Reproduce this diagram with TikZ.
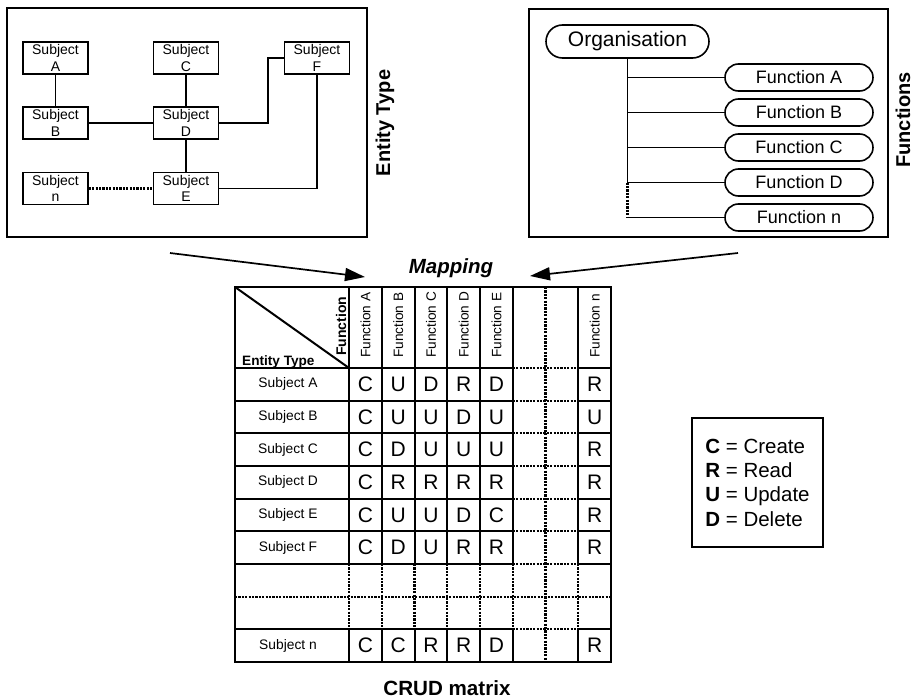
\documentclass[tikz,border=0pt]{standalone}
\usepackage{fontspec}
\setmainfont{Liberation Sans}
\usetikzlibrary{arrows.meta,shapes.misc}
\tikzset{
    subject box/.style={
        draw,line width=1.6pt,
        minimum width=65pt,minimum height=32pt,inner sep=0pt,
        align=center,font=\fontsize{14}{16.5}\selectfont
    },
    function box/.style={
        draw,rounded rectangle,line width=1.6pt,
        minimum width=148pt,minimum height=27pt,inner sep=0pt,
        font=\fontsize{18}{20}\selectfont
    },
    side label/.style={rotate=90,font=\fontsize{20}{24}\selectfont\bfseries},
    head label/.style={rotate=90,anchor=west,inner sep=0pt,font=\fontsize{13.6}{16}\selectfont},
    row label/.style={font=\fontsize{13.8}{16}\selectfont},
    crud/.style={font=\fontsize{21}{24}\selectfont},
    link/.style={line width=1.6pt},
    dotline/.style={dash pattern=on 2.2pt off 1.2pt,line width=2.2pt},
    grid line/.style={line width=2pt},
    >={Triangle[length=20pt,width=13pt]},
}
\begin{document}
\begin{tikzpicture}[x=1pt,y=-1pt]
\useasboundingbox (0,0) rectangle (917,698);
% entity types
\draw[line width=1.7pt] (7,8) rectangle (367,237);
\foreach \name/\x/\y in {A/55.5/58,C/186/58,F/317/58,B/55.5/123,D/186/123,n/55.5/188.5,E/186/188.5}
    \node[subject box] (s\name) at (\x,\y) {Subject\\\name};
\coordinate (bend) at (268,123);
\draw[link] (sA) -- (sB) (sC) -- (sD) -- (sE) (sB) -- (sD);
\draw[link] (sD) -- (bend) |- (sF);
\draw[link] (sF) |- (sE);
\draw[dotline] (sn) -- (sE);
\node[side label] (etype) at (385,123) {Entity Type};
% functions
\draw[line width=1.7pt] (529,9) rectangle (888,237);
\node[function box,minimum width=163pt,minimum height=33pt,font=\fontsize{21}{24}\selectfont] (org) at (627.5,41.5) {Organisation};
\foreach \i/\name in {0/A,1/B,2/C,3/D,4/n}
    \node[function box] (f\name) at (799,77.5+35*\i) {Function \name};
\foreach \name in {A,B,C,D,n}
    \draw[link] (org.south |- f\name.west) -- (f\name.west);
\draw[link] (org.south) -- (org.south |- fD.west);
\draw[dotline] (org.south |- fD.west) -- (org.south |- fn.west);
\node[side label] (funcs) at (903,120) {Functions};
% mapping
\node[font=\fontsize{20.5}{24}\selectfont\bfseries\itshape] (map) at (451,268) {Mapping};
\coordinate (lstart) at (170,253);
\coordinate (lend) at (365,277);
\coordinate (rstart) at (738,253);
\coordinate (rend) at (530,276);
\draw[->,line width=1.7pt] (lstart) -- (lend);
\draw[->,line width=1.7pt] (rstart) -- (rend);
% CRUD matrix
\draw[grid line] (235,287) rectangle (611,662);
\draw[grid line] (235,287) -- (349,368);
\foreach \j in {0,...,6,8} {
    \draw[grid line] (235,368+32.67*\j) -- (512.75,368+32.67*\j);
    \draw[dotline] (512.75,368+32.67*\j) -- (578.25,368+32.67*\j);
    \draw[grid line] (578.25,368+32.67*\j) -- (611,368+32.67*\j);
}
\draw[dotline] (235,596.7) -- (611,596.7);
\foreach \i in {0,...,5,7} {
    \draw[grid line] (349+32.75*\i,287) -- (349+32.75*\i,564);
    \draw[dotline] (349+32.75*\i,564) -- (349+32.75*\i,629.4);
    \draw[grid line] (349+32.75*\i,629.4) -- (349+32.75*\i,662);
}
\draw[dotline] (545.5,287) -- (545.5,662);
\node[rotate=90,anchor=west,inner sep=0pt,font=\fontsize{14}{16}\selectfont\bfseries] (hfunc) at (341,356) {Function};
\node[anchor=base west,inner sep=0pt,font=\fontsize{13.6}{16}\selectfont\bfseries] (hent) at (242,365) {Entity Type};
\foreach \i/\name in {0/A,1/B,2/C,3/D,4/E,7/n}
    \node[head label] (h\name) at (365.4+32.75*\i,358) {Function \name};
\foreach \j/\name/\cells/\last in {0/A/{C,U,D,R,D}/R,1/B/{C,U,U,D,U}/U,2/C/{C,D,U,U,U}/R,3/D/{C,R,R,R,R}/R,4/E/{C,U,U,D,C}/R,5/F/{C,D,U,R,R}/R,8/n/{C,C,R,R,D}/R} {
    \node[row label] (r\name) at (288,384.3+32.67*\j) {Subject \name};
    \foreach \v [count=\k from 0] in \cells
        \node[crud] (c\name-\k) at (365.4+32.75*\k,384.3+32.67*\j) {\v};
    \node[crud] (c\name-n) at (365.4+32.75*7,384.3+32.67*\j) {\last};
}
\node[font=\fontsize{20.6}{24}\selectfont\bfseries,anchor=base] (title) at (447,695) {CRUD matrix};
% legend
\node[draw,line width=1.7pt,minimum width=131pt,minimum height=129pt,align=left,
    font=\fontsize{20.5}{24.3}\selectfont] (legend) at (757.5,482.5)
    {\textbf{C} = Create\\\textbf{R} = Read\\\textbf{U} = Update\\\textbf{D} = Delete};
\end{tikzpicture}
\end{document}
